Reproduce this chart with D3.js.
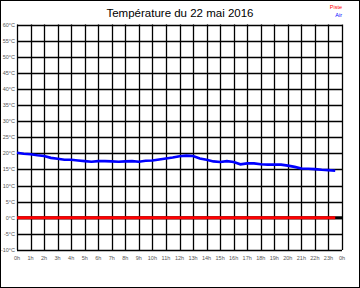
<!DOCTYPE html>
<html><head><meta charset="utf-8">
<script src="https://cdn.jsdelivr.net/npm/d3@7"></script>
<style>body{margin:0;background:#fff}svg{display:block}</style>
</head><body>
<script>
const title = "Température du 22 mai 2016";
const hours = [0,0.5,1,1.5,2,2.5,3,3.5,4,4.5,5,5.5,6,6.5,7,7.5,8,8.5,9,9.5,10,10.5,11,11.5,12,12.5,13,13.5,14,14.5,15,15.5,16,16.5,17,17.5,18,18.5,19,19.5,20,20.5,21,21.5,22,22.5,23,23.5];
const air = [20.2,19.9,19.7,19.4,19.2,18.6,18.3,18.0,18.0,17.8,17.6,17.4,17.6,17.6,17.5,17.4,17.5,17.6,17.4,17.7,17.8,18.1,18.4,18.7,19.1,19.3,19.2,18.4,18.0,17.5,17.3,17.6,17.3,16.6,16.9,16.9,16.6,16.5,16.5,16.5,16.2,15.8,15.3,15.2,15.1,14.9,14.8,14.6];
const piste = [0,0,0,0,0,0,0,0,0,0,0,0,0,0,0,0,0,0,0,0,0,0,0,0,0,0,0,0,0,0,0,0,0,0,0,0,0,0,0,0,0,0,0,0,0,0,0,0];
const yTicks = [-10,-5,0,5,10,15,20,25,30,35,40,45,50,55,60];
const xTicks = [0,1,2,3,4,5,6,7,8,9,10,11,12,13,14,15,16,17,18,19,20,21,22,23,24];
const xTickLabels = ["0h","1h","2h","3h","4h","5h","6h","7h","8h","9h","10h","11h","12h","13h","14h","15h","16h","17h","18h","19h","20h","21h","22h","23h","0h"];
const seriesNames = ["Piste","Air"];

const W=360,H=288;
const svg=d3.select("body").append("svg").attr("width",W).attr("height",H);
svg.append("rect").attr("x",0.5).attr("y",0.5).attr("width",W-1).attr("height",H-1).attr("fill","#fff").attr("stroke","#000");

const x=d3.scaleLinear().domain([0,24]).range([17,342]);
const y=d3.scaleLinear().domain([-10,60]).range([250,24.5]);

const g=svg.append("g");
g.selectAll(".hg").data(yTicks).enter().append("line")
 .attr("x1",x(0)).attr("x2",x(24))
 .attr("y1",d=>Math.round(y(d))+0.5).attr("y2",d=>Math.round(y(d))+0.5)
 .attr("stroke","#000").attr("stroke-width",1.3);
g.selectAll(".vg").data(xTicks).enter().append("line")
 .attr("y1",y(60)).attr("y2",y(-10))
 .attr("x1",d=>Math.round(x(d))+0.5).attr("x2",d=>Math.round(x(d))+0.5)
 .attr("stroke","#000").attr("stroke-width",1.3);

g.append("line").attr("x1",x(0)).attr("x2",x(24)).attr("y1",y(0)).attr("y2",y(0))
 .attr("stroke","#000").attr("stroke-width",3);

g.selectAll(".yl").data(yTicks).enter().append("text")
 .attr("x",15).attr("y",d=>y(d)+2)
 .attr("text-anchor","end").attr("font-family","Liberation Sans, Arial, sans-serif")
 .attr("font-size",5.5).attr("fill","#555").text(d=>d+"°C");
g.selectAll(".xl").data(xTicks).enter().append("text")
 .attr("x",d=>x(d)).attr("y",260)
 .attr("text-anchor","middle").attr("font-family","Liberation Sans, Arial, sans-serif")
 .attr("font-size",5.5).attr("fill","#555").text((d,i)=>xTickLabels[i]);

const lineGen=d3.line().x((d,i)=>x(hours[i])).y(d=>y(d));
g.append("path").datum(piste).attr("d",lineGen).attr("fill","none").attr("stroke","#f00").attr("stroke-width",3);
g.append("path").datum(air).attr("d",lineGen).attr("fill","none").attr("stroke","#00f").attr("stroke-width",2.6);

svg.append("text").attr("x",180).attr("y",16.5).attr("text-anchor","middle")
 .attr("font-family","Liberation Sans, Arial, sans-serif").attr("font-size",11.5).attr("fill","#000").text(title);
svg.append("text").attr("x",342).attr("y",9).attr("text-anchor","end")
 .attr("font-family","Liberation Sans, Arial, sans-serif").attr("font-size",5.5).attr("fill","#f00").text(seriesNames[0]);
svg.append("text").attr("x",342).attr("y",17).attr("text-anchor","end")
 .attr("font-family","Liberation Sans, Arial, sans-serif").attr("font-size",5.5).attr("fill","#00f").text(seriesNames[1]);
</script>
</body></html>
